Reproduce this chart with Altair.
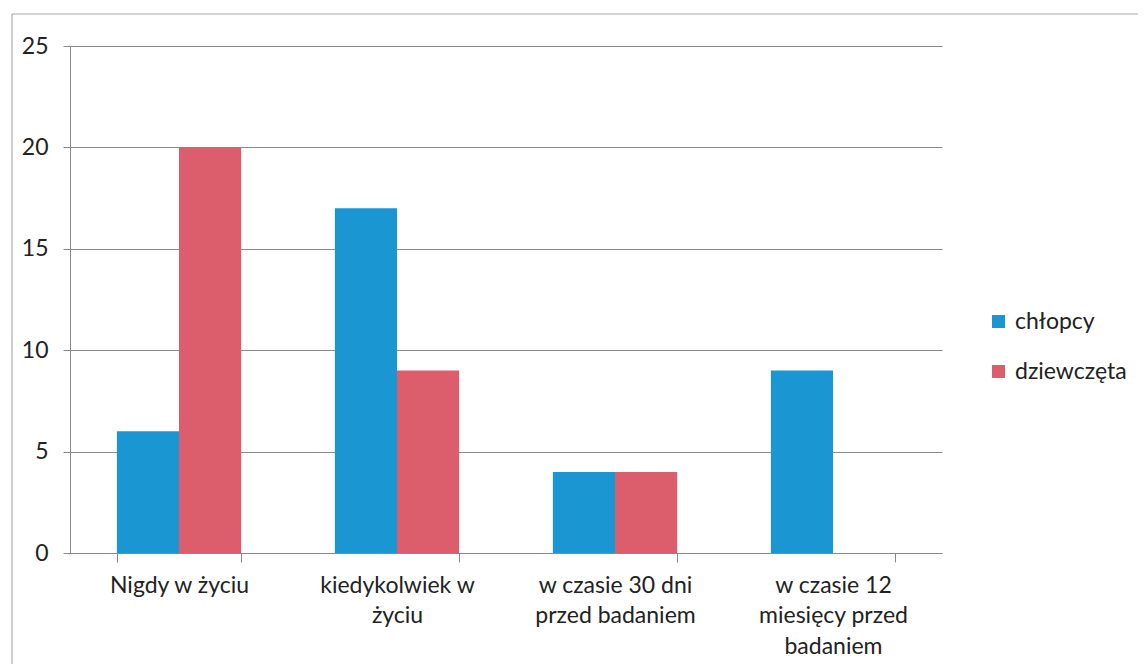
import altair as alt
import pandas as pd

categories = ["Nigdy w życiu", "kiedykolwiek w\nżyciu", "w czasie 30 dni\nprzed badaniem", "w czasie 12\nmiesięcy  przed\nbadaniem"]
series = ["chłopcy", "dziewczęta"]
chlopcy = [6, 17, 4, 9]
dziewczeta = [20, 9, 4, 0]
colors = ["#1a96d3", "#dc5e6c"]

rows = []
for c, a, b in zip(categories, chlopcy, dziewczeta):
    rows.append({"cat": c, "grp": series[0], "val": a})
    rows.append({"cat": c, "grp": series[1], "val": b})
df = pd.DataFrame(rows)

FONT = "Lato"

bars = alt.Chart(df).mark_bar().encode(
    x=alt.X("cat:N", sort=categories, title=None,
            scale=alt.Scale(paddingInner=0.43, paddingOuter=0.215),
            axis=alt.Axis(labelAngle=0, labelExpr="split(datum.label, '\\n')",
                          tickBand="extent", grid=False, labelFontSize=23, labelFont=FONT,
                          labelColor="#222", labelPadding=12, tickSize=9,
                          tickColor="#888", domainColor="#888", labelLineHeight=30.5)),
    xOffset=alt.XOffset("grp:N", sort=series),
    y=alt.Y("val:Q", title=None,
            scale=alt.Scale(domain=[0, 25]),
            axis=alt.Axis(values=[0, 5, 10, 15, 20, 25], grid=True, gridColor="#8a8a8a",
                          labelFontSize=23, labelFont=FONT, labelColor="#222",
                          tickSize=7, tickColor="#888", domainColor="#888",
                          labelPadding=15)),
    color=alt.Color("grp:N", sort=series, title=None,
                    scale=alt.Scale(domain=series, range=colors),
                    legend=alt.Legend(orient="none", legendX=917, legendY=264,
                                      symbolType="square", symbolSize=170,
                                      symbolStrokeWidth=0,
                                      labelFontSize=23, labelFont=FONT, labelColor="#222",
                                      rowPadding=26, labelOffset=5)),
)

border = alt.Chart(pd.DataFrame({"a": [0]})).mark_rule(
    stroke="#aaa", strokeWidth=1.2, clip=False
).encode(x=alt.value(-58), x2=alt.value(1200), y=alt.value(-32))
border_left = alt.Chart(pd.DataFrame({"a": [0]})).mark_rule(
    stroke="#aaa", strokeWidth=1.2, clip=False
).encode(x=alt.value(-58), y=alt.value(-32), y2=alt.value(700))

chart = alt.layer(border, border_left, bars).properties(
    width=872, height=507,
    background="white",
    autosize=alt.AutoSizeParams(type="none"),
    padding={"left": 62, "top": 38, "right": 196, "bottom": 111},
).configure_view(stroke="transparent", strokeWidth=0)

chart.save("out.html", embed_options={"renderer": "svg", "actions": False})
